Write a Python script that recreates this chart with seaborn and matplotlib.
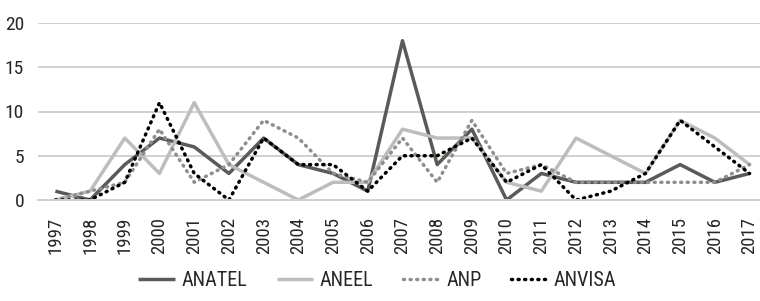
import numpy as np
import pandas as pd
import matplotlib
matplotlib.use("Agg")
import matplotlib.pyplot as plt
import seaborn as sns

years = list(range(1997, 2018))
anatel = [1, 0, 4, 7, 6, 3, 7, 4, 3, 1, 18, 4, 8, 0, 3, 2, 2, 2, 4, 2, 3]
aneel = [0, 1, 7, 3, 11, 4, 2, 0, 2, 2, 8, 7, 7, 2, 1, 7, 5, 3, 9, 7, 4]
anp = [0, 1, 2, 8, 2, 4, 9, 7, 3, 2, 7, 2, 9, 3, 4, 2, 2, 2, 2, 2, 4]
anvisa = [0, 0, 2, 11, 3, 0, 7, 4, 4, 1, 5, 5, 7, 2, 4, 0, 1, 3, 9, 6, 3]

df = pd.DataFrame({"ano": years, "ANATEL": anatel, "ANEEL": aneel,
                   "ANP": anp, "ANVISA": anvisa})
long = df.melt(id_vars="ano", var_name="agencia", value_name="n")

sns.set_style("white")
plt.rcParams["font.family"] = ["Roboto Condensed", "DejaVu Sans"]

cores = {"ANATEL": "#5b5a56", "ANEEL": "#bdbdbd", "ANP": "#8e8e8e", "ANVISA": "#000000"}
tracos = {"ANATEL": "", "ANEEL": "", "ANP": (0.3, 1.6), "ANVISA": (0.3, 1.6)}

fig = plt.figure(figsize=(7.6, 3.01), dpi=100)
ax = fig.add_axes([38 / 760, (301 - 200) / 301, (760 - 38) / 760, 177 / 301])
sns.lineplot(data=long, x="ano", y="n", hue="agencia", style="agencia",
             palette=cores, dashes=tracos, linewidth=2.5, ax=ax)

# pontilhado com pontos redondos
for ln in ax.get_lines():
    ln.set_dash_capstyle("round")
    ln.set_solid_capstyle("butt")

ax.set_xlim(1996.5, 2017.3)
ax.set_ylim(0, 20)
ax.set_yticks([0, 5, 10, 15, 20])
ax.set_xticks(years)
ax.set_xticklabels([str(a) for a in years], rotation=90)
ax.set_xlabel("")
ax.set_ylabel("")
ax.grid(axis="y", color="#d0d0d0", linewidth=1.4)
ax.set_axisbelow(True)
for s in ["top", "right", "left"]:
    ax.spines[s].set_visible(False)
ax.spines["bottom"].set_color("#d0d0d0")
ax.spines["bottom"].set_linewidth(1.4)
ax.tick_params(axis="x", length=10, width=1.4, color="#d0d0d0", labelsize=13.5, pad=2)
ax.tick_params(axis="y", length=0, labelsize=14, pad=10)

handles, labels = ax.get_legend_handles_labels()
ax.legend(handles, labels, loc="center", bbox_to_anchor=(0.47, -0.455),
          ncol=4, frameon=False, fontsize=14.5, handlelength=1.8,
          columnspacing=1.45, handletextpad=0.35)

fig.savefig("out.png", dpi=100)
